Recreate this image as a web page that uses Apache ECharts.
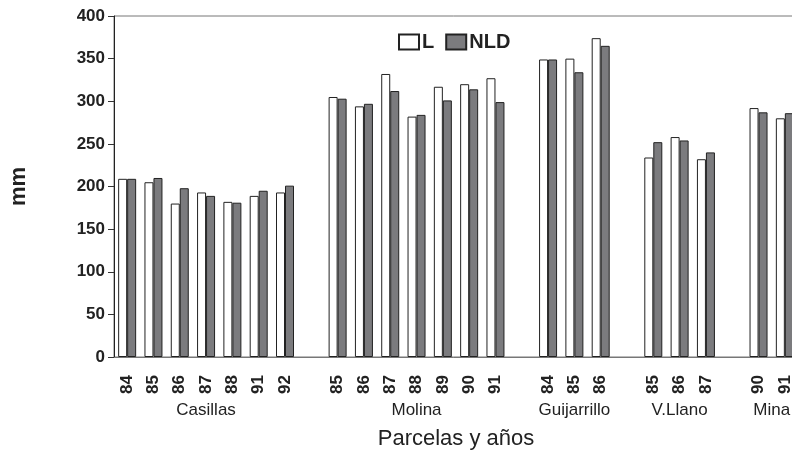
<!DOCTYPE html>
<html>
<head>
<meta charset="utf-8">
<script src="https://cdn.jsdelivr.net/npm/echarts@6/dist/echarts.min.js"></script>
<style>
  html, body { margin: 0; padding: 0; background: #fff; }
  #chart { width: 792px; height: 450px; }
</style>
</head>
<body>
<div id="chart"></div>
<script>
// Plots and measurement years
const groupNames = ['Casillas', 'Molina', 'Guijarrillo', 'V.Llano', 'Mina'];
const groupYears = [
  ['84', '85', '86', '87', '88', '91', '92'],
  ['85', '86', '87', '88', '89', '90', '91'],
  ['84', '85', '86'],
  ['85', '86', '87'],
  ['90', '91']
];
// Values in mm for each plot/year
const valuesL = [
  [209, 205, 180, 193, 182, 189, 193],
  [305, 294, 332, 282, 317, 320, 327],
  [349, 350, 374],
  [234, 258, 232],
  [292, 280]
];
const valuesNLD = [
  [209, 210, 198, 189, 181, 195, 201],
  [303, 297, 312, 284, 301, 314, 299],
  [349, 334, 365],
  [252, 254, 240],
  [287, 286]
];
const yTicks = { min: 0, max: 400, step: 50 };

// Flatten groups into one category axis with an empty slot between groups
const categories = [];
const seriesL = [];
const seriesNLD = [];
const groupCenters = [];
groupYears.forEach((years, g) => {
  if (g > 0) { categories.push(''); seriesL.push(null); seriesNLD.push(null); }
  const start = categories.length;
  years.forEach((y, i) => {
    categories.push(y);
    seriesL.push(valuesL[g][i]);
    seriesNLD.push(valuesNLD[g][i]);
  });
  groupCenters.push((start + categories.length) / 2);
});

const chart = echarts.init(document.getElementById('chart'), null, { renderer: 'canvas' });
const font = 'Liberation Sans';

chart.setOption({
  animation: false,
  backgroundColor: '#fff',
  grid: {
    left: 114, right: -6, top: 16, bottom: 93,
    outerBoundsMode: 'none',
    containLabel: false,
    show: true, borderColor: '#777', borderWidth: 1
  },
  legend: {
    left: 393, top: 27,
    icon: 'rect',
    itemWidth: 20, itemHeight: 15, itemGap: 11,
    textStyle: { fontFamily: font, fontWeight: 'bold', fontSize: 20, color: '#222', padding: [0, 0, 0, -2] },
    data: ['L', 'NLD']
  },
  xAxis: [
    {
      type: 'category',
      data: categories,
      boundaryGap: true,
      name: 'Parcelas y años',
      nameLocation: 'middle',
      nameGap: 71,
      nameTextStyle: { fontFamily: font, fontSize: 22, color: '#222' },
      axisLine: { lineStyle: { color: '#777', width: 1 } },
      axisTick: { alignWithLabel: true, length: 7, lineStyle: { color: '#333' } },
      axisLabel: {
        rotate: 90, interval: 0, margin: 18,
        fontFamily: font, fontWeight: 'bold', fontSize: 17, color: '#222'
      },
      splitLine: { show: false }
    },
    {
      type: 'value',
      min: 0, max: categories.length,
      position: 'bottom',
      axisLine: { show: false },
      axisTick: { show: false },
      splitLine: { show: false },
      axisLabel: {
        customValues: groupCenters,
        margin: 45,
        fontFamily: font, fontSize: 17, color: '#222',
        formatter: v => {
          const i = groupCenters.findIndex(c => Math.abs(c - v) < 1e-6);
          return i >= 0 ? groupNames[i] : '';
        }
      }
    }
  ],
  yAxis: {
    type: 'value',
    min: yTicks.min, max: yTicks.max, interval: yTicks.step,
    name: 'mm',
    nameLocation: 'middle',
    nameGap: 84,
    nameRotate: 90,
    nameTextStyle: { fontFamily: font, fontWeight: 'bold', fontSize: 22, color: '#222' },
    axisLine: { show: true, lineStyle: { color: '#222', width: 1 } },
    axisTick: { show: true, length: 6, lineStyle: { color: '#333' } },
    axisLabel: { margin: 9, fontFamily: font, fontWeight: 'bold', fontSize: 17, color: '#222' },
    splitLine: { show: false }
  },
  series: [
    {
      name: 'L',
      type: 'bar',
      xAxisIndex: 0,
      data: seriesL,
      barWidth: 9,
      barGap: '0%',
      itemStyle: { color: '#ffffff', borderColor: '#222', borderWidth: 1 }
    },
    {
      name: 'NLD',
      type: 'bar',
      xAxisIndex: 0,
      data: seriesNLD,
      barWidth: 9,
      barGap: '0%',
      itemStyle: { color: '#7b7b7e', borderColor: '#222', borderWidth: 1 }
    }
  ]
});
</script>
</body>
</html>
